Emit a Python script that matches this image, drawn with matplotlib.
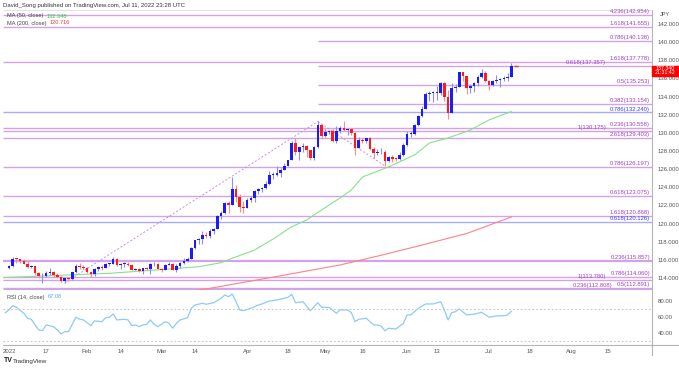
import matplotlib
matplotlib.use('Agg')
import matplotlib.pyplot as plt
from matplotlib.patches import Rectangle

plt.rcParams['font.family'] = ['Liberation Sans', 'DejaVu Sans']

# USD/JPY daily bars, Jan 3 - Jul 11 2022 (weekdays, bar index 0..135)
opens = [115.08, 115.30, 116.13, 116.10, 115.83, 115.56, 115.20, 115.31, 114.58, 114.16,
         114.20, 114.58, 114.60, 114.30, 114.13, 113.69, 113.98, 113.87, 114.63, 115.35,
         115.24, 115.11, 114.67, 114.41, 114.97, 115.25, 115.09, 115.55, 115.58, 116.04,
         115.42, 115.58, 115.59, 115.46, 114.93, 115.01, 114.76, 115.08, 115.01, 115.51,
         115.55, 114.98, 114.89, 115.48, 115.55, 114.83, 115.30, 115.67, 115.85, 116.13,
         117.30, 118.15, 118.30, 118.75, 118.59, 119.17, 119.45, 120.80, 121.16, 122.31,
         122.05, 123.85, 122.89, 121.86, 121.70, 122.54, 122.78, 123.61, 123.76, 123.96,
         124.34, 125.35, 125.40, 125.58, 125.89, 126.39, 126.96, 128.90, 127.89, 128.40,
         128.51, 128.13, 127.23, 128.42, 130.83, 129.68, 130.13, 130.15, 129.12, 130.22,
         130.56, 130.27, 130.44, 129.95, 128.34, 129.23, 129.15, 129.38, 128.25, 127.79,
         127.86, 127.91, 126.86, 127.33, 127.13, 127.11, 127.60, 128.67, 129.86, 129.88,
         130.88, 131.89, 132.64, 134.23, 134.39, 134.41, 134.42, 135.45, 133.97, 132.21,
         134.96, 135.04, 136.66, 136.25, 134.96, 135.20, 135.44, 136.14, 136.62, 135.73,
         135.22, 135.69, 135.87, 135.93, 136.04, 136.11]
highs = [115.44, 116.35, 116.20, 116.14, 116.04, 115.85, 115.43, 115.37, 114.62, 114.49,
         114.75, 115.06, 114.72, 114.52, 114.17, 114.00, 114.05, 114.67, 115.49, 115.69,
         115.48, 115.24, 114.75, 115.10, 115.36, 115.39, 115.65, 115.68, 116.34, 116.19,
         115.69, 115.78, 115.73, 115.54, 115.14, 115.09, 115.13, 115.24, 115.69, 115.75,
         115.65, 115.15, 115.54, 115.80, 115.61, 115.52, 115.79, 116.18, 116.32, 117.36,
         118.19, 118.45, 119.12, 119.05, 119.41, 119.55, 120.99, 121.41, 122.42, 122.44,
         125.09, 124.30, 123.23, 122.43, 122.79, 123.05, 123.70, 123.96, 124.05, 124.69,
         125.77, 125.63, 126.33, 126.10, 126.68, 127.02, 129.11, 129.41, 128.47, 128.85,
         128.61, 128.16, 128.52, 131.25, 131.02, 130.41, 130.35, 130.37, 130.79, 130.77,
         131.35, 130.47, 130.48, 130.14, 129.53, 129.46, 129.47, 129.54, 128.48, 128.27,
         128.37, 128.08, 127.45, 127.55, 127.31, 127.93, 128.85, 130.16, 130.22, 130.98,
         131.96, 133.00, 134.48, 134.56, 134.56, 135.19, 135.59, 135.60, 134.68, 135.44,
         135.39, 136.71, 136.71, 136.26, 135.41, 135.59, 136.38, 137.00, 136.83, 135.85,
         135.83, 136.38, 136.03, 136.25, 136.57, 137.75]
lows = [115.00, 115.20, 115.67, 115.69, 115.49, 115.07, 115.06, 114.35, 113.98, 113.48,
        114.12, 114.27, 114.05, 113.95, 113.60, 113.46, 113.63, 113.82, 114.56, 115.02,
        114.88, 114.53, 114.15, 114.22, 114.73, 114.91, 115.05, 115.35, 115.50, 115.33,
        115.02, 115.23, 115.34, 114.86, 114.84, 114.66, 114.48, 114.90, 114.41, 115.33,
        114.97, 114.70, 114.82, 115.42, 114.82, 114.65, 115.08, 115.53, 115.80, 116.06,
        117.21, 117.71, 117.70, 118.36, 118.45, 118.82, 119.40, 120.47, 121.10, 121.18,
        121.99, 122.38, 121.28, 121.18, 121.66, 122.32, 122.39, 123.30, 123.42, 123.77,
        124.25, 124.90, 125.25, 125.12, 125.85, 126.31, 126.95, 127.55, 127.03, 127.90,
        127.30, 126.95, 127.04, 128.38, 129.30, 129.53, 129.84, 128.98, 128.91, 129.95,
        130.22, 129.79, 129.76, 127.52, 128.30, 128.88, 128.85, 128.07, 127.27, 127.52,
        127.61, 126.36, 126.73, 126.77, 126.86, 127.05, 127.45, 128.55, 129.50, 129.76,
        130.74, 131.72, 132.58, 133.54, 133.38, 133.58, 134.22, 133.50, 131.50, 132.18,
        134.47, 135.01, 135.74, 134.27, 134.44, 134.53, 135.15, 136.06, 135.56, 134.74,
        135.12, 135.50, 135.10, 135.68, 135.70, 136.10]
closes = opens[1:] + [137.34]

# moving averages (bar index, price)
ma50_idx = [-2, 27, 42, 51, 57, 60, 66, 71, 76, 80, 84, 87, 89, 92, 95, 102, 109, 113, 118, 124, 129, 135]
ma50_val = [114.03, 114.51, 114.95, 115.24, 115.68, 116.17, 117.08, 118.29, 119.65, 120.39, 121.49,
            122.30, 122.82, 123.70, 125.13, 126.24, 127.56, 128.88, 129.43, 130.31, 131.42, 132.348]
ma200_idx = [48, 53, 70, 89, 100, 110, 123, 135]
ma200_val = [112.50, 112.78, 114.02, 115.43, 116.50, 117.52, 118.90, 120.716]

# RSI(14)
rsi_idx = [-1, 0, 1, 2, 4, 5, 6, 7, 8, 9, 10, 12, 13, 14, 15, 16, 18, 19, 20, 22, 23, 25, 26, 27,
           28, 29, 31, 32, 33, 34, 35, 36, 37, 38, 39, 40, 42, 43, 44, 45, 46, 48, 49, 50, 52, 53,
           55, 57, 58, 59, 60, 61, 62, 63, 65, 67, 68, 70, 72, 75, 76, 77, 79, 81, 83, 84, 86, 88,
           89, 91, 92, 93, 94, 96, 98, 99, 100, 101, 102, 104, 106, 107, 108, 110, 112, 114, 116,
           117, 118, 119, 120, 121, 123, 125, 127, 129, 131, 133, 134, 135]
rsi_val = [65.3, 68.6, 73.9, 71.9, 64.6, 58.4, 57.2, 50.2, 44.1, 43.2, 50.2, 48.1, 44.1, 39.2, 42.0,
           42.0, 59.7, 57.2, 56.4, 49.4, 55.1, 54.3, 59.2, 59.7, 63.7, 56.4, 57.2, 56.4, 49.4, 50.2,
           48.1, 50.2, 51.0, 56.4, 51.0, 48.1, 54.3, 52.3, 46.2, 52.3, 56.4, 59.2, 70.7, 74.7, 76.8,
           75.6, 77.5, 82.9, 87.0, 84.9, 88.2, 78.8, 68.6, 67.7, 70.7, 74.7, 76.0, 79.6, 80.9, 84.2,
           87.8, 77.5, 78.8, 67.7, 77.5, 71.9, 71.9, 64.6, 68.6, 68.6, 65.3, 54.3, 57.2, 58.4, 50.2,
           50.2, 49.0, 43.2, 46.2, 45.3, 52.3, 62.5, 62.5, 70.7, 76.0, 76.0, 78.8, 68.6, 56.4, 65.3,
           66.5, 69.8, 62.5, 63.4, 65.8, 59.7, 61.3, 61.6, 62.5, 67.08]

# fibonacci levels: value, label, first bar (None = whole width)
fib_vals = [142.954, 141.655, 140.138, 137.778, 137.357, 135.253, 133.154, 132.240, 130.558, 130.175,
            129.403, 126.197, 123.075, 120.868, 120.126, 115.857, 114.060, 113.780, 112.891, 112.808]
fib_labels = ['4.236(142.954)', '1.618(141.655)', '0.786(140.138)', '1.618(137.778)', '0.618(137.357)',
              '0.5(135.253)', '0.382(133.154)', '0.786(132.240)', '0.236(130.558)', '1(130.175)',
              '2.618(129.403)', '0.786(126.197)', '0.618(123.075)', '1.618(120.868)', '0.618(120.126)',
              '0.236(115.857)', '0.786(114.060)', '1(113.780)', '0.5(112.891)', '0.236(112.808)']
fib_start = [None, None, 83, None, 83, 83, 83, None, None, None,
             None, None, None, None, None, None, None, None, None, None]
fib_blue = ['0.786(132.240)', '0.618(120.126)']

tick_pos = [0, 10, 21, 30, 41, 50, 64, 75, 85, 95, 107, 115, 129, 140, 151, 161]
tick_lab = ['2022', '17', 'Feb', '14', 'Mar', '14', 'Apr', '18', 'May', '16', 'Jun', '13', 'Jul', '18', 'Aug', '15']

W, H = 679, 368


def box(x0, y0, x1, y1):
    return [x0 / W, 1 - y1 / H, (x1 - x0) / W, (y1 - y0) / H]


fig = plt.figure(figsize=(W / 100, H / 100), dpi=100)
ax = fig.add_axes(box(3, 10, 652, 290))
rax = fig.add_axes(box(3, 291, 652, 345), sharex=ax)
renderer = fig.canvas.get_renderer()

x0, x1 = -1.6, 172.8
ax.set_xlim(x0, x1)
ax.set_ylim(112.67, 143.54)

# fib lines + labels; a label whose line sits right under the previous one
# goes to the left of that label so the two do not pile up
prev_v, prev_left = None, None
for v, lab, st in zip(fib_vals, fib_labels, fib_start):
    blue = lab in fib_blue
    lc = '#a9a9ff' if blue else '#d4a2ea'
    tc = '#3d3dff' if blue else '#a040c8'
    lw = 1.6 if lab == '0.236(115.857)' else 1.0
    ax.hlines(v, x0 if st is None else st, x1, colors=lc, lw=lw, zorder=1)
    right_px = 650
    if prev_v is not None and prev_v - v < 0.5:
        right_px = prev_left - 4
    t = fig.text(right_px / W, 0, lab, ha='right', va='bottom', fontsize=4.2, color=tc, zorder=2,
                 transform=fig.transFigure)
    ybase = ax.transData.transform((0, v + 0.1))[1] / (H)
    t.set_y(ybase)
    bb = t.get_window_extent(renderer)
    prev_v, prev_left = v, bb.x0

# dashed fib anchors
ax.plot([15, 83], [113.46, 131.25], color='#c98ee4', lw=0.7, ls=(0, (2, 2)), zorder=2)
ax.plot([83, 101], [131.25, 126.36], color='#c98ee4', lw=0.7, ls=(0, (2, 2)), zorder=2)

# moving averages
ax.plot(ma50_idx, ma50_val, color='#86e386', lw=0.8, zorder=3)
ax.plot(ma200_idx, ma200_val, color='#ff8282', lw=0.8, zorder=3)

# candles
idx = list(range(len(opens)))
up = [c >= o for o, c in zip(opens, closes)]
wick_c = ['#8c8cff' if u else '#ff8c8c' for u in up]
body_c = ['#1a1aff' if u else '#ff1a1a' for u in up]
ax.vlines(idx, lows, highs, colors=wick_c, lw=0.8, zorder=4)
bottoms = [min(o, c) for o, c in zip(opens, closes)]
heights = [max(abs(c - o), 0.07) for o, c in zip(opens, closes)]
ax.bar(idx, heights, bottom=bottoms, width=0.7, color=body_c, lw=0, zorder=5)
ax.hlines(closes[-1], 135.6, 136.8, colors='#ff3030', lw=1.0, zorder=5)

ax.yaxis.tick_right()
yt = list(range(114, 143, 2))
ax.set_yticks(yt)
ax.set_yticklabels([f'{v:.3f}' for v in yt])
ax.tick_params(axis='y', length=0, labelsize=4.3, labelcolor='#555555', pad=4)
ax.tick_params(axis='x', length=0, labelbottom=False)
for s in ['left', 'bottom']:
    ax.spines[s].set_visible(False)
ax.spines['top'].set_color('#dddddd')
ax.spines['top'].set_linewidth(0.6)
ax.spines['right'].set_color('#b5b5b5')
ax.spines['right'].set_linewidth(0.8)

# current price box
ax.add_patch(Rectangle((1.0, closes[-1] - 1.05), 0.042, 1.12, transform=ax.get_yaxis_transform(),
                       color='#ff0000', clip_on=False, zorder=6))
fig.text(665 / W, 1 - 68.5 / H, '137.340', color='white', fontsize=3.8, ha='center', va='center')
fig.text(665 / W, 1 - 73 / H, '21:31:42', color='white', fontsize=3.8, ha='center', va='center')

# RSI panel
rax.plot(rsi_idx, rsi_val, color='#8ccbf7', lw=0.9)
rax.hlines([70, 30], x0, x1, colors='#c8c8c8', lw=0.8, linestyles=(0, (1.5, 2)))
rax.set_ylim(25.6, 91.9)
rax.yaxis.tick_right()
rax.set_yticks([40, 60, 80])
rax.set_yticklabels(['40.00', '60.00', '80.00'])
rax.tick_params(axis='y', length=0, labelsize=4.3, labelcolor='#555555', pad=4)
rax.set_xticks(tick_pos)
rax.set_xticklabels(tick_lab)
rax.tick_params(axis='x', length=0, labelsize=4.3, labelcolor='#555555', pad=3)
rax.spines['left'].set_visible(False)
rax.spines['top'].set_visible(False)
rax.spines['right'].set_color('#b5b5b5')
rax.spines['right'].set_linewidth(0.8)
rax.spines['bottom'].set_color('#b5b5b5')
rax.spines['bottom'].set_linewidth(0.8)

# extra frame bits outside the axes
fig.add_artist(plt.Line2D([652 / W, 679 / W], [1 - 345 / H, 1 - 345 / H], color='#b5b5b5', lw=0.8))
fig.add_artist(plt.Line2D([652 / W, 652 / W], [1 - 355 / H, 1 - 345 / H], color='#b5b5b5', lw=0.8))


def legend(x, y, name, value, vcolor):
    t = fig.text(x / W, 1 - y / H, name, fontsize=4.1, color='#444444', va='center')
    bb = t.get_window_extent(renderer)
    fig.text((bb.x1 + 3) / W, 1 - y / H, value, fontsize=4.1, color=vcolor, va='center')


fig.text(3 / W, 1 - 5 / H, 'David_Song published on TradingView.com, Jul 11, 2022 23:28 UTC',
         fontsize=4.3, color='#333333', va='center')
fig.text(660 / W, 1 - 14 / H, 'JPY', fontsize=4, color='#555555', va='center')
legend(7, 16, 'MA (50, close)', '132.348', '#2ecc40')
legend(7, 23, 'MA (200, close)', '120.716', '#ff3333')
legend(7, 297, 'RSI (14, close)', '67.08', '#4aa8f0')
fig.text(4 / W, 1 - 361 / H, 'TV', fontsize=5, weight='bold', color='#222222', va='center')
fig.text(13 / W, 1 - 361 / H, 'TradingView', fontsize=4.5, color='#333333', va='center')

fig.savefig('out.png', dpi=100)
